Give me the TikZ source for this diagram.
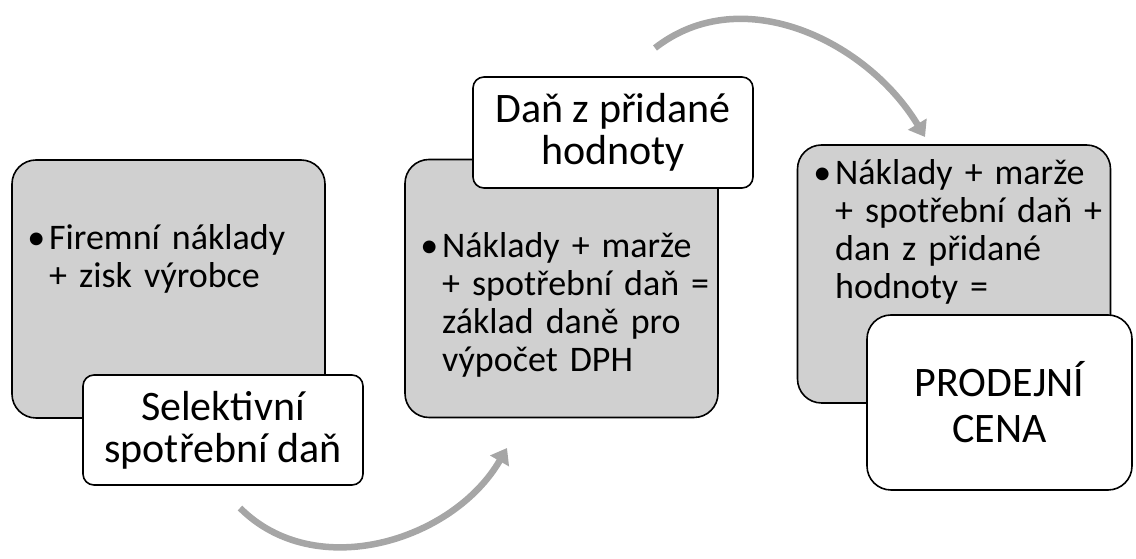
\documentclass[tikz,border=0pt]{standalone}
\usepackage{fontspec}
\setmainfont{Carlito}
\usetikzlibrary{arrows.meta}

\definecolor{boxgray}{HTML}{D0D0D0}
\definecolor{flowgray}{HTML}{A6A6A6}
\newcommand{\bul}{\llap{•\hspace{4pt}}}

\tikzset{
  gbox/.style={draw, line width=1.6pt, fill=boxgray, rounded corners=24pt,
    minimum width=313pt, minimum height=258pt},
  tag/.style={draw, line width=1.6pt, fill=white, rounded corners=11pt,
    align=center, font=\fontsize{42}{42}\selectfont},
  txt/.style={anchor=base west, align=left, inner sep=0pt, text width=272pt,
    font=\fontsize{36}{37.8}\selectfont},
  flow/.style={draw=flowgray, line width=6.5pt,
    -{Triangle[width=21pt,length=15pt]}}
}

\begin{document}
\begin{tikzpicture}
                        [x=1pt,y=1pt]
                        \useasboundingbox (0,0) rectangle (1136,559);
                        % first step
                        \node[gbox] (b1) at (168.5,270) {};
                        \node[txt] (t1) at (49,309) {\bul Firemní náklady\\+ zisk výrobce};
                        \node[tag, minimum width=280pt, minimum height=110pt] (l1) at (223,129) {Selektivní\\spotřební daň};
                        % second step
                        \node[gbox] (b2) at (561.5,270.5) {};
                        \node[txt] (t2) at (442,301) {\bul Náklady + marže\\+ spotřební daň =\\základ daně pro\\výpočet DPH};
                        \node[tag, minimum width=280pt, minimum height=111pt] (l2) at (613,426.5) {Daň z přidané\\hodnoty};
                        % third step
                        \node[gbox] (b3) at (954,285) {};
                        \node[txt] (t3) at (835,374) {\bul Náklady + marže\\+ spotřební daň +\\dan z přidané\\hodnoty =};
                        \node[tag, minimum width=265pt, minimum height=175pt, rounded corners=24pt, font=\fontsize{42}{46}\selectfont] (l3) at (999.5,156.5) {PRODEJNÍ\\CENA};
                        % arrows
                        \coordinate (a1) at (240,51);
                        \coordinate (a2) at (507,111);
                        \coordinate (a3) at (655,511);
                        \coordinate (a4) at (925,422);
                        \draw[flow] (a1) to[out=-45,in=240] (a2);
                        \draw[flow] (a3) to[out=38,in=121] (a4);
                    \end{tikzpicture}
\end{document}
